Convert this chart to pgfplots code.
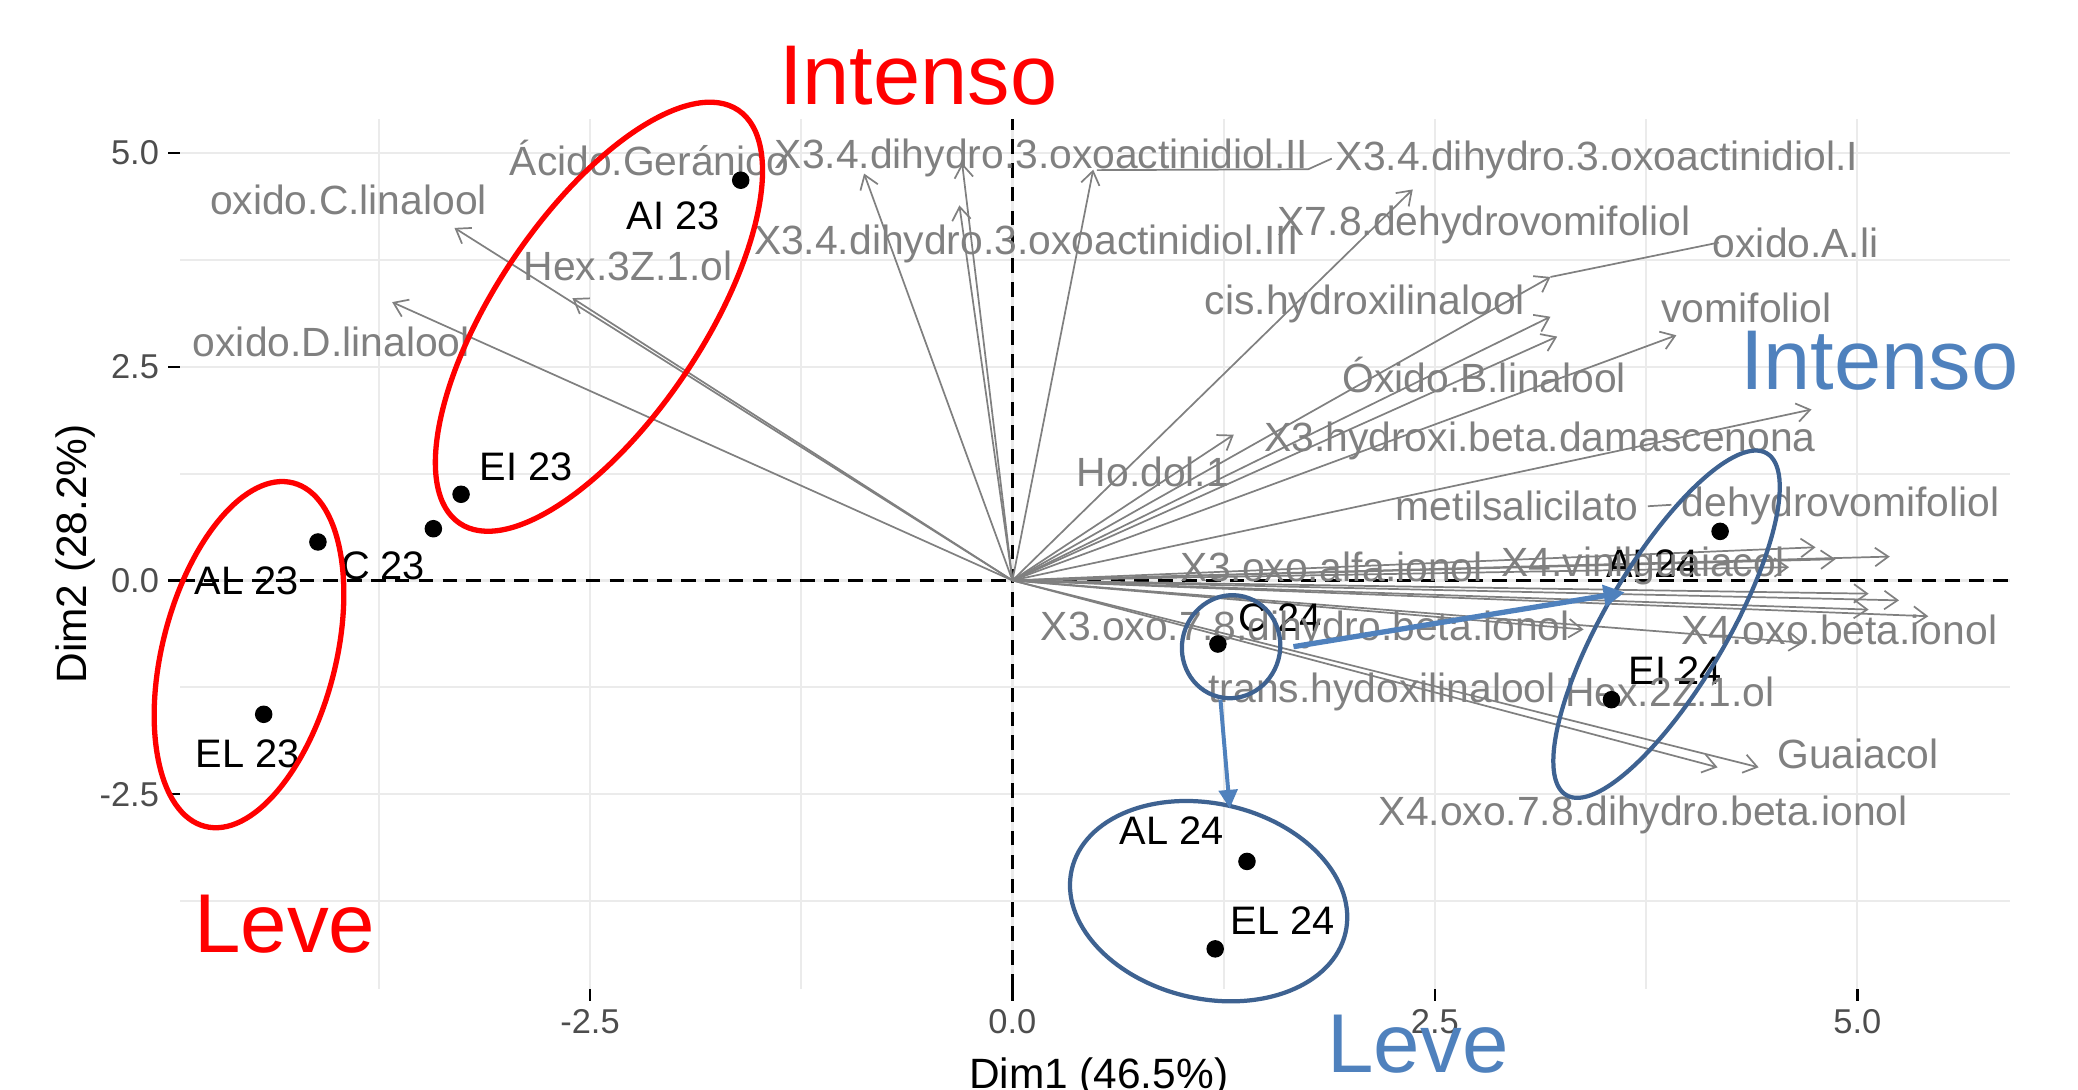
\documentclass[border=0pt]{standalone}
\usepackage{fontspec}
\setmainfont{Liberation Sans}
\usepackage{pgfplots}
\usepackage{pgfplotstable}
\pgfplotsset{compat=1.18}
\usetikzlibrary{arrows.meta}
\definecolor{gridc}{HTML}{EBEBEB}
\definecolor{varc}{HTML}{808080}
\definecolor{tickc}{HTML}{4D4D4D}
\definecolor{ellblue}{HTML}{3E6291}
\definecolor{arrblue}{HTML}{4F81BD}

\pgfplotstableread{
x y u v
0 0 -3.302 4.124
0 0 -3.671 3.256
0 0 -2.604 3.302
0 0 -0.878 4.760
0 0 -0.298 4.884
0 0 -0.314 4.388
0 0 0.478 4.806
0 0 2.369 4.574
0 0 3.184 3.550
0 0 3.184 3.085
0 0 3.929 2.868
0 0 3.224 2.853
0 0 4.729 2.000
0 0 1.310 1.705
0 0 4.753 0.388
0 0 5.192 0.279
0 0 4.871 0.248
0 0 4.596 0.155
0 0 5.247 -0.233
0 0 3.380 -0.574
0 0 5.420 -0.419
0 0 5.067 -0.155
0 0 4.173 -2.186
0 0 4.682 -0.729
0 0 4.416 -2.186
0 0 5.067 -0.341
}\vars

\pgfplotstableread{
x y
-1.608 4.682
-3.263 1.008
-3.427 0.605
-4.110 0.450
-4.431 -1.566
1.216 -0.744
1.388 -3.287
1.200 -4.310
3.545 -1.395
4.188 0.574
}\inds

\begin{document}
\begin{tikzpicture}
\begin{axis}[
  width=690.5pt, height=328pt, scale only axis,
  xmin=-4.925, xmax=5.906, ymin=-4.775, ymax=5.395,
  axis x line*=bottom, axis y line*=left, axis line style={draw=none},
  xtick={-2.5,0,2.5,5}, xticklabels={-2.5,0.0,2.5,5.0},
  ytick={-2.5,0,2.5,5}, yticklabels={-2.5,0.0,2.5,5.0},
  minor xtick={-3.75,-1.25,1.25,3.75}, minor ytick={-3.75,-1.25,1.25,3.75},
  grid=both,
  major grid style={gridc, line width=0.8pt},
  minor grid style={gridc, line width=0.8pt},
  tick align=outside, major tick length=4.5pt, minor tick length=0pt,
  tick style={black, line width=0.9pt},
  ticklabel style={font=\fontsize{13}{15}\selectfont, text=tickc},
  clip=false,
]
\coordinate (ll) at (rel axis cs:0,0);
\coordinate (ur) at (rel axis cs:1,1);

\addplot[black, line width=0.9pt, dash pattern=on 5.5pt off 3.5pt, no markers] coordinates {(-4.925,0) (5.906,0)};
\addplot[black, line width=0.9pt, dash pattern=on 5.5pt off 3.5pt, no markers] coordinates {(0,-4.775) (0,5.395)};

\addplot[varc, line width=0.65pt, no markers, -{Straight Barb[length=5pt,width=7pt]},
  quiver={u=\thisrow{u}, v=\thisrow{v}}] table[x=x,y=y] {\vars};

% repel segments
\addplot[varc, line width=0.65pt, no markers] coordinates {(3.184,3.550) (4.180,3.953)};
\addplot[varc, line width=0.65pt, no markers] coordinates {(0.50,4.800) (1.75,4.810) (1.89,4.935)};
\addplot[varc, line width=0.65pt, no markers] coordinates {(3.76,0.868) (3.90,0.885)};

\addplot[only marks, mark=*, mark size=3.1pt, black] table[x=x,y=y] {\inds};

% individual labels
\begin{scope}[every node/.style={inner sep=0pt, font=\fontsize{15}{18}\selectfont, text=black}]
\node at (axis cs:-2.008,4.264) {AI 23};
\node at (axis cs:-2.878,1.333) {EI 23};
\node at (axis cs:-3.725,0.171) {C 23};
\node at (axis cs:-4.533,0.000) {AL 23};
\node at (axis cs:-4.525,-2.031) {EL 23};
\node at (axis cs:1.584,-0.434) {C 24};
\node at (axis cs:0.941,-2.930) {AL 24};
\node at (axis cs:1.600,-3.984) {EL 24};
\node at (axis cs:3.922,-1.054) {EI 24};
\node at (axis cs:3.788,0.202) {AI 24};
\end{scope}

% variable labels
\begin{scope}[every node/.style={inner sep=0pt, font=\fontsize{15.4}{18}\selectfont, text=varc}]
\node at (axis cs:-3.929,4.450) {oxido.C.linalool};
\node at (axis cs:-4.031,2.791) {oxido.D.linalool};
\node at (axis cs:-2.275,3.674) {Hex.3Z.1.ol};
\node at (axis cs:-2.149,4.946) {Ácido.Geránico};
\node at (axis cs:0.172,4.946) {X3.4.dihydro.3.oxoactinidiol.II};
\node at (axis cs:0.082,3.938) {X3.4.dihydro.3.oxoactinidiol.III};
\node at (axis cs:3.459,4.915) {X3.4.dihydro.3.oxoactinidiol.I};
\node at (axis cs:2.792,4.155) {X7.8.dehydrovomifoliol};
\node at (axis cs:4.635,3.953) {oxido.A.li};
\node at (axis cs:2.086,3.240) {cis.hydroxilinalool};
\node at (axis cs:4.345,3.194) {vomifoliol};
\node at (axis cs:2.792,2.403) {Óxido.B.linalool};
\node at (axis cs:3.122,1.628) {X3.hydroxi.beta.damascenona};
\node at (axis cs:0.831,1.271) {Ho.dol.1};
\node at (axis cs:2.988,0.868) {metilsalicilato};
\node at (axis cs:4.902,0.868) {dehydrovomifoliol};
\node at (axis cs:1.890,0.155) {X3.oxo.alfa.ionol};
\node at (axis cs:3.733,0.171) {X4.vinilguaiacol};
\node at (axis cs:1.733,-0.574) {X3.oxo.7.8.dihydro.beta.ionol};
\node at (axis cs:4.894,-0.574) {X4.oxo.beta.ionol};
\node at (axis cs:2.188,-1.302) {trans.hydoxilinalool};
\node at (axis cs:3.890,-1.302) {Hex.2Z.1.ol};
\node at (axis cs:5.004,-2.031) {Guaiacol};
\node at (axis cs:3.733,-2.744) {X4.oxo.7.8.dihydro.beta.ionol};
\end{scope}

% ellipses
\draw[red, line width=2pt, rotate around={56:(axis cs:-2.447,3.085)}] (axis cs:-2.447,3.085) ellipse [x radius=94pt, y radius=39pt];
\draw[red, line width=2pt, rotate around={75.6:(axis cs:-4.518,-0.868)}] (axis cs:-4.518,-0.868) ellipse [x radius=66.9pt, y radius=32.7pt];
\draw[ellblue, line width=1.6pt, rotate around={75:(axis cs:1.294,-0.775)}] (axis cs:1.294,-0.775) ellipse [x radius=19.5pt, y radius=18.5pt];
\draw[ellblue, line width=1.6pt, rotate around={-13:(axis cs:1.161,-3.752)}] (axis cs:1.161,-3.752) ellipse [x radius=53pt, y radius=36.8pt];
\draw[ellblue, line width=1.6pt, rotate around={59.6:(axis cs:3.871,-0.512)}] (axis cs:3.871,-0.512) ellipse [x radius=74.75pt, y radius=23pt];

% blue arrows
\draw[arrblue, line width=2pt, -{Triangle[length=8pt,width=8pt]}] (axis cs:1.663,-0.775) -- (axis cs:3.624,-0.140);
\draw[arrblue, line width=1.5pt, -{Triangle[length=7pt,width=7pt]}] (axis cs:1.231,-1.395) -- (axis cs:1.286,-2.667);

% big annotations
\node[inner sep=0pt, text=red, font=\fontsize{32}{38}\selectfont] at (axis cs:-0.557,5.907) {Intenso};
\node[inner sep=0pt, text=red, font=\fontsize{31.5}{38}\selectfont] at (axis cs:-4.306,-4.016) {Leve};
\node[inner sep=0pt, text=arrblue, font=\fontsize{32}{38}\selectfont] at (axis cs:5.129,2.574) {Intenso};
\node[inner sep=0pt, text=arrblue, font=\fontsize{31.5}{38}\selectfont] at (axis cs:2.400,-5.426) {Leve};

% axis titles
\node[anchor=base, inner sep=0pt, font=\fontsize{16}{19}\selectfont] at (axis cs:0.51,-5.938) {Dim1 (46.5\%)};
\node[anchor=base, rotate=90, inner sep=0pt, font=\fontsize{16}{19}\selectfont] at (axis cs:-5.482,0.310) {Dim2 (28.2\%)};
\end{axis}
\pgfresetboundingbox
\path ([shift={(-68pt,-38pt)}]ll) rectangle ([shift={(25.5pt,45pt)}]ur);
\end{tikzpicture}
\end{document}
